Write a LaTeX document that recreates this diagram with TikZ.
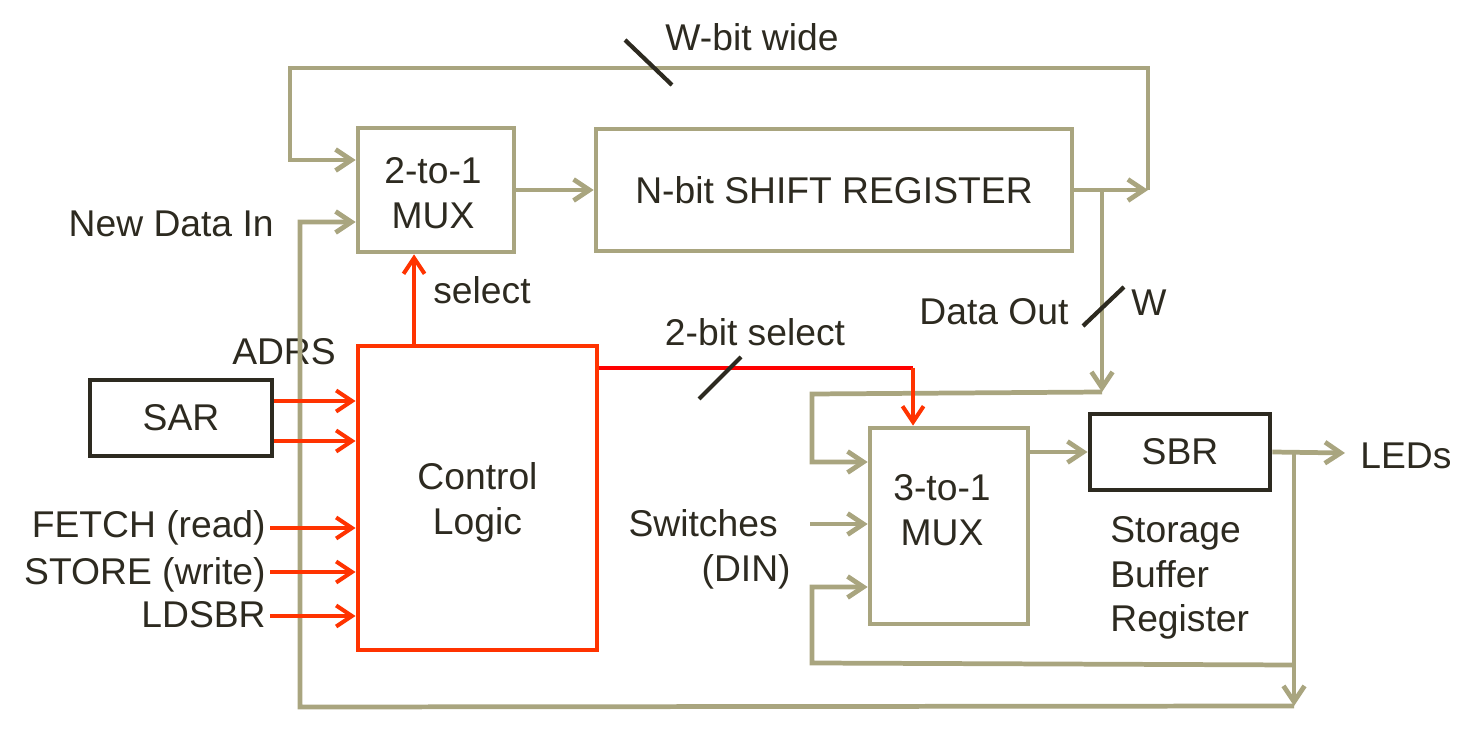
\documentclass[tikz,border=0pt]{standalone}
\usepackage{fontspec}
\setmainfont{Liberation Sans}
\usetikzlibrary{arrows.meta}
\definecolor{olv}{HTML}{A9A57F}
\definecolor{rdo}{HTML}{FF3300}
\definecolor{rdp}{HTML}{FF0000}
\definecolor{dk}{HTML}{2D2A20}
\begin{document}
\begin{tikzpicture}[x=0.02cm,y=-0.02cm,
  every node/.style={font=\fontsize{21.2}{25.5}\selectfont, text=dk},
  arr/.style={-{Straight Barb[length=9pt,width=12pt]}},
  oline/.style={draw=olv, line width=2.7pt, line join=miter},
  rline/.style={draw=rdo, line width=2.3pt},
  obox/.style={draw=olv, line width=2.7pt, fill=white, inner sep=0pt},
  rbox/.style={draw=rdo, line width=2.8pt, fill=white, inner sep=0pt},
  dbox/.style={draw=dk, line width=2.8pt, fill=white, inner sep=0pt},
  lbl/.style={inner sep=0pt},
  slash/.style={draw=dk, line width=2.4pt}]
\useasboundingbox (0,0) rectangle (1475,729);
% boxes
\node[obox, minimum width=3.12cm, minimum height=2.48cm] (mux2) at (436,190) {};
\node[lbl, align=center] (mux2t) at (433,193) {2-to-1\\MUX};
\node[obox, minimum width=9.52cm, minimum height=2.44cm] (sr) at (834,190) {N-bit SHIFT REGISTER};
\node[rbox, minimum width=4.78cm, minimum height=6.08cm] (ctrl) at (477.5,498) {};
\node[lbl, align=center] (ctrlt) at (477.5,502) {Control\\Logic};
\node[dbox, minimum width=3.64cm, minimum height=1.52cm] (sar) at (181,418) {SAR};
\node[obox, minimum width=3.16cm, minimum height=3.92cm] (mux3) at (949,526) {};
\node[lbl, align=center] (mux3t) at (942,510) {3-to-1\\MUX};
\node[dbox, minimum width=3.6cm, minimum height=1.52cm] (sbr) at (1180,452) {SBR};
% labels
\node[lbl] (wbw) at (752,37) {W-bit wide};
\node[lbl, anchor=east] (ndi) at (274,224) {New Data In};
\node[lbl] (adrs) at (284,352) {ADRS};
\node[lbl] (sel) at (482,290) {select};
\node[lbl] (bsel) at (755,332) {2-bit select};
\node[lbl] (dout) at (994,312) {Data Out};
\node[lbl] (wl) at (1149,303) {W};
\node[lbl, anchor=west] (leds) at (1360,456) {LEDs};
\node[lbl, anchor=east] (fetch) at (266,528) {FETCH (read)};
\node[lbl, anchor=east] (store) at (266,575) {STORE (write)};
\node[lbl, anchor=east] (ldsbr) at (266,615) {LDSBR};
\node[lbl, anchor=east] (sw1) at (778,523) {Switches};
\node[lbl, anchor=east] (sw2) at (791,572) {(DIN)};
\node[lbl, anchor=north west, align=left] (stb) at (1110,516) {Storage\\Buffer\\Register};
% coordinates
\coordinate (j1) at (1148,190);
\coordinate (tl) at (290,68);
\coordinate (j2) at (1102,190);
\coordinate (j3) at (1102,392);
\coordinate (a3) at (812,394);
\coordinate (swi) at (810,524);
\coordinate (led) at (1345,453);
\coordinate (j4) at (1294,453);
\coordinate (j5) at (1294,706);
\coordinate (j6) at (1294,665);
\coordinate (b6) at (812,663);
\coordinate (b5) at (300,707);
\coordinate (sa1) at ([yshift=0.34cm]sar.east);
\coordinate (sa2) at ([yshift=-0.46cm]sar.east);
\coordinate (f1) at (270,528);
\coordinate (s1) at (270,572);
\coordinate (l1) at (270,616);
\coordinate (cs) at ([xshift=-1.27cm]ctrl.north);
\coordinate (c2) at ([yshift=-0.48cm]ctrl.north east);
\coordinate (c2k) at ([xshift=-0.72cm]mux3.north |- c2);
% olive connectors
\draw[oline, arr] (mux2.east) -- (sr.west);
\draw[oline, arr] (sr.east) -- (j1);
\draw[oline, arr] (j1) |- (tl) |- ([yshift=0.6cm]mux2.west);
\draw[oline, arr] (j2) -- (j3);
\draw[oline, arr] (j3) -- (a3) |- ([yshift=1.28cm]mux3.west);
\draw[oline, arr] (swi) -- (swi -| mux3.west);
\draw[oline, arr] (mux3.east |- sbr.west) -- (sbr.west);
\draw[oline, arr] (sbr.east) -- (led);
\draw[oline, arr] (j4) -- (j5);
\draw[oline, arr] (j6) -- (b6) |- ([yshift=-1.22cm]mux3.west);
\draw[oline, arr] (j5) -- (b5) |- ([yshift=-0.64cm]mux2.west);
% red connectors
\draw[rline, arr] (cs) -- (cs |- mux2.south);
\draw[draw=rdp, line width=2.3pt] (c2) -- (c2k);
\draw[rline, arr] (c2k) -- ([xshift=-0.72cm]mux3.north);
\draw[rline, arr] (sa1) -- (sa1 -| ctrl.west);
\draw[rline, arr] (sa2) -- (sa2 -| ctrl.west);
\draw[rline, arr] (f1) -- (f1 -| ctrl.west);
\draw[rline, arr] (s1) -- (s1 -| ctrl.west);
\draw[rline, arr] (l1) -- (l1 -| ctrl.west);
% bus slashes
\coordinate (w1a) at (625,40); \coordinate (w1b) at (672,85);
\draw[slash] (w1a) -- (w1b);
\coordinate (w2a) at (1083,326); \coordinate (w2b) at (1124,287);
\draw[slash] (w2a) -- (w2b);
\coordinate (w3a) at (699,399); \coordinate (w3b) at (741,357);
\draw[slash] (w3a) -- (w3b);
\end{tikzpicture}
\end{document}
